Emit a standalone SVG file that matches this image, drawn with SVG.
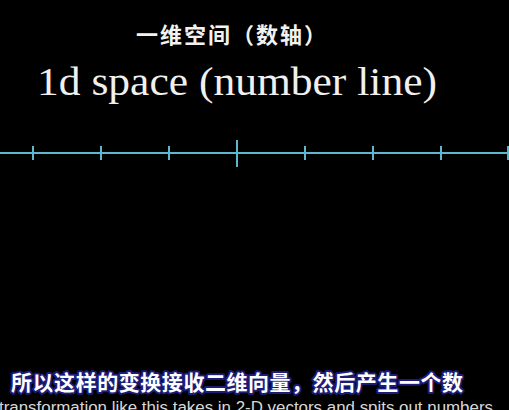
<svg xmlns="http://www.w3.org/2000/svg" width="509" height="410" viewBox="0 0 509 410">
<style>
.cjk{font-family:"Noto Sans CJK SC","Noto Sans",sans-serif;font-weight:bold}
.axis{stroke:#5cb9cd;stroke-width:2;fill:none}
</style>
<rect width="509" height="410" fill="#000"/>
<g id="title-cn">
<text class="cjk" x="136" y="43" font-size="22" fill="#f2f2f2" textLength="190" lengthAdjust="spacing">一维空间（数轴）</text>
</g>
<g id="title-en">
<text x="37" y="95" font-family="'Liberation Serif','DejaVu Serif',serif" font-size="40" fill="#f0f0f0" textLength="400" lengthAdjust="spacingAndGlyphs">1d space (number line)</text>
</g>
<g id="number-line">
<line class="axis" x1="0" y1="153" x2="509" y2="153"/>
<g class="axis">
<line x1="33" y1="146" x2="33" y2="160"/>
<line x1="101" y1="146" x2="101" y2="160"/>
<line x1="169" y1="146" x2="169" y2="160"/>
<line x1="237" y1="140" x2="237" y2="167"/>
<line x1="305" y1="146" x2="305" y2="160"/>
<line x1="373" y1="146" x2="373" y2="160"/>
<line x1="441" y1="146" x2="441" y2="160"/>
<line x1="508" y1="146" x2="508" y2="160"/>
</g>
</g>
<g id="subtitle-cn">
<text class="cjk" x="11" y="390" font-size="21" fill="#fff" stroke="#1c1c78" stroke-width="4" stroke-linejoin="round" paint-order="stroke" textLength="452" lengthAdjust="spacing">所以这样的变换接收二维向量，然后产生一个数</text>
</g>
<g id="subtitle-en">
<text x="-1" y="413" font-family="'Liberation Sans',Arial,sans-serif" font-size="16" fill="#d8d8d8" textLength="494" lengthAdjust="spacingAndGlyphs">transformation like this takes in 2-D vectors and spits out numbers</text>
</g>
</svg>
